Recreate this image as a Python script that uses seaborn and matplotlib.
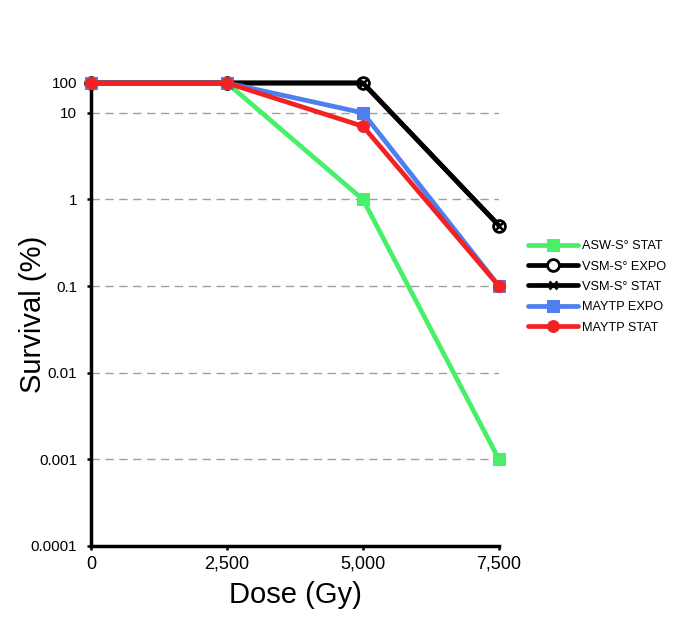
import numpy as np
import pandas as pd
import matplotlib
matplotlib.use('Agg')
import matplotlib.pyplot as plt
import seaborn as sns

dose = [0, 2500, 5000, 7500]
asw_stat = [100, 100, 1, 0.001]
vsm_expo = [100, 100, 100, 0.5]
vsm_stat = [100, 100, 100, 0.5]
maytp_expo = [100, 100, 10, 0.1]
maytp_stat = [100, 100, 7, 0.1]

names = ['ASW-S° STAT', 'VSM-S° EXPO', 'VSM-S° STAT', 'MAYTP EXPO', 'MAYTP STAT']
series = [asw_stat, vsm_expo, vsm_stat, maytp_expo, maytp_stat]
colors = ['#48f06a', '#000000', '#000000', '#4d7ff0', '#f22222']
markers = ['s', 'o', 'x', 's', 'o']

sns.set_style('white')
plt.rcParams['font.family'] = ['Liberation Sans', 'DejaVu Sans']
plt.rcParams['text.color'] = 'black'
plt.rcParams['axes.labelcolor'] = 'black'
plt.rcParams['xtick.color'] = 'black'
plt.rcParams['ytick.color'] = 'black'

# the original's top decade (10-100) is drawn compressed
squeeze = 30 / 87


def fwd(y):
    t = np.log10(np.clip(y, 1e-12, None))
    return np.where(t <= 1, t, 1 + (t - 1) * squeeze)


def inv(u):
    u = np.asarray(u, dtype=float)
    return np.where(u <= 1, 10 ** u, 10 ** (1 + (u - 1) / squeeze))


fig = plt.figure(figsize=(6.85, 6.17), dpi=100)
ax = fig.add_axes([0.1328, 0.1151, 0.5956, 0.7504])

for name, vals, c, m in zip(names, series, colors, markers):
    if name == 'VSM-S° EXPO':
        sns.lineplot(x=dose, y=vals, ax=ax, color=c, lw=3.4, marker='o', markersize=8.5,
                     markerfacecolor='white', markeredgecolor='black', markeredgewidth=2,
                     label=name, clip_on=False, zorder=3)
    elif name == 'VSM-S° STAT':
        sns.lineplot(x=dose, y=vals, ax=ax, color=c, lw=3.4, marker='x', markersize=5.5,
                     markeredgecolor='black', markeredgewidth=1.8,
                     label=name, clip_on=False, zorder=3)
    else:
        sns.lineplot(x=dose, y=vals, ax=ax, color=c, lw=3.4, marker=m, markersize=8.5,
                     markeredgecolor=c, label=name, clip_on=False, zorder=3)

ax.set_yscale('function', functions=(fwd, inv))
ax.set_ylim(0.0001, 100)
ax.set_xlim(0, 7500)
ax.set_xticks(dose)
ax.set_xticklabels(['0', '2,500', '5,000', '7,500'], fontsize=13)
yt = [0.0001, 0.001, 0.01, 0.1, 1, 10, 100]
ax.set_yticks(yt)
ax.set_yticklabels(['0.0001', '0.001', '0.01', '0.1', '1', '10', '100'], fontsize=11)
ax.minorticks_off()
ax.tick_params(axis='both', length=3, width=1.8, direction='out')
ax.tick_params(axis='y', pad=7)
ax.tick_params(axis='x', pad=4)
ax.tick_params(bottom=True, left=True)

for yv in [0.001, 0.01, 0.1, 1, 10]:
    ax.axhline(yv, color='#a0a0a0', lw=1, ls=(0, (6, 4)), zorder=1)

for s in ['top', 'right']:
    ax.spines[s].set_visible(False)
for s in ['left', 'bottom']:
    ax.spines[s].set_color('black')
    ax.spines[s].set_linewidth(2.5)

ax.set_xlabel('Dose (Gy)', fontsize=21, labelpad=6)
ax.set_ylabel('Survival (%)', fontsize=21)
ax.yaxis.set_label_coords(-0.108, 0.5)

ax.legend(loc='center left', bbox_to_anchor=(0.771, 0.535), bbox_transform=fig.transFigure,
          frameon=False, fontsize=9.2, handlelength=3.9, labelspacing=0.65,
          handletextpad=0.3, borderaxespad=0, borderpad=0)

fig.savefig('out.png', dpi=100)
